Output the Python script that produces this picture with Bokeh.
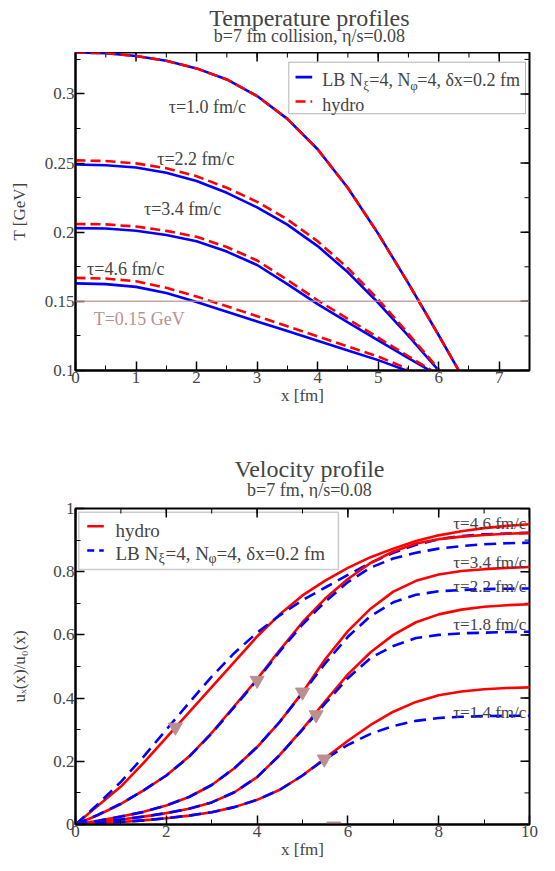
import numpy as np
from bokeh.plotting import figure
from bokeh.models import (SingleIntervalTicker, NumeralTickFormatter, Span, Label,
                          BoxAnnotation, Range1d)
from bokeh.layouts import column
from bokeh.embed import file_html
from bokeh.resources import INLINE

FONT = "Liberation Serif"
BLUE = "#0000ff"
RED = "#ff0000"
ROSY = "#bc8f8f"

# ---------------- Temperature profiles (top) ----------------
T_tau_labels = ["τ=1.0 fm/c", "τ=2.2 fm/c", "τ=3.4 fm/c", "τ=4.6 fm/c"]

x_T10 = [0, 0.5, 1, 1.5, 2, 2.5, 3, 3.5, 4, 4.5, 5, 5.5, 6, 6.5]
T10_lb = [0.330, 0.3295, 0.3275, 0.324, 0.3185, 0.3105, 0.2985, 0.282, 0.260, 0.232, 0.199, 0.163, 0.1255, 0.087]
T10_hy = [0.330, 0.3295, 0.3275, 0.324, 0.3185, 0.3105, 0.2985, 0.282, 0.260, 0.232, 0.199, 0.163, 0.1255, 0.087]

x_T22 = [0, 0.5, 1, 1.5, 2, 2.5, 3, 3.5, 4, 4.5, 5, 5.5, 6, 6.1]
T22_lb = [0.249, 0.2485, 0.2468, 0.2430, 0.2370, 0.2285, 0.2180, 0.2055, 0.1900, 0.1710, 0.1490, 0.1250, 0.1000, 0.095]
T22_hy = [0.252, 0.2515, 0.2498, 0.2463, 0.2405, 0.2322, 0.2220, 0.2093, 0.1935, 0.1740, 0.1515, 0.1265, 0.1010, 0.096]

x_T34 = [0, 0.5, 1, 1.5, 2, 2.5, 3, 3.5, 4, 4.5, 5, 5.5, 5.9]
T34_lb = [0.203, 0.2027, 0.2011, 0.198, 0.1935, 0.186, 0.1763, 0.1625, 0.148, 0.1348, 0.1218, 0.109, 0.0988]
T34_hy = [0.206, 0.2057, 0.2041, 0.201, 0.1967, 0.1893, 0.1796, 0.1655, 0.1508, 0.1373, 0.1238, 0.1103, 0.0996]

x_T46 = [0, 0.5, 1, 1.5, 2, 2.5, 3, 3.5, 4, 4.5, 5, 5.5]
T46_lb = [0.163, 0.1625, 0.1605, 0.156, 0.1495, 0.1425, 0.1355, 0.1285, 0.1215, 0.1145, 0.1075, 0.0995]
T46_hy = [0.167, 0.1665, 0.1645, 0.1598, 0.1535, 0.1465, 0.1393, 0.132, 0.1247, 0.1174, 0.1101, 0.101]

T_label_x = [1.54, 1.35, 1.13, 0.19]
T_label_y = [0.2907, 0.2531, 0.2170, 0.1736]
T_freeze = 0.15

# ---------------- Velocity profile (bottom) ----------------
x_u = [0, 0.5, 1, 1.5, 2, 2.5, 3, 3.5, 4, 4.5, 5, 5.5, 6, 6.5, 7, 7.5, 8, 8.5, 9, 9.5, 10]
u46_hy = [0, 0.06, 0.12, 0.195, 0.275, 0.355, 0.435, 0.515, 0.595, 0.665, 0.725, 0.772, 0.812, 0.846, 0.873, 0.897, 0.915, 0.928, 0.938, 0.945, 0.95]
u46_lb = [0, 0.065, 0.135, 0.215, 0.3, 0.385, 0.468, 0.543, 0.607, 0.662, 0.71, 0.75, 0.79, 0.828, 0.86, 0.885, 0.903, 0.913, 0.918, 0.921, 0.923]
u34_hy = [0, 0.03, 0.065, 0.108, 0.155, 0.215, 0.29, 0.375, 0.46, 0.552, 0.64, 0.715, 0.777, 0.828, 0.864, 0.889, 0.903, 0.911, 0.916, 0.92, 0.923]
u34_lb = [0, 0.031, 0.066, 0.108, 0.155, 0.214, 0.288, 0.372, 0.457, 0.548, 0.633, 0.705, 0.767, 0.813, 0.842, 0.86, 0.873, 0.881, 0.887, 0.89, 0.892]
u22_hy = [0, 0.012, 0.025, 0.04, 0.06, 0.087, 0.125, 0.178, 0.245, 0.325, 0.418, 0.523, 0.612, 0.683, 0.737, 0.771, 0.791, 0.802, 0.808, 0.812, 0.815]
u22_lb = [0, 0.012, 0.025, 0.04, 0.06, 0.087, 0.125, 0.178, 0.245, 0.325, 0.416, 0.51, 0.594, 0.66, 0.703, 0.727, 0.738, 0.742, 0.745, 0.746, 0.747]
u18_hy = [0, 0.008, 0.016, 0.025, 0.036, 0.05, 0.07, 0.102, 0.15, 0.22, 0.302, 0.39, 0.475, 0.545, 0.6, 0.64, 0.665, 0.68, 0.689, 0.694, 0.697]
u18_lb = [0, 0.008, 0.016, 0.025, 0.036, 0.05, 0.07, 0.102, 0.15, 0.22, 0.3, 0.383, 0.463, 0.527, 0.565, 0.59, 0.6, 0.605, 0.607, 0.609, 0.61]
u14_hy = [0, 0.004, 0.008, 0.013, 0.02, 0.028, 0.039, 0.055, 0.078, 0.11, 0.155, 0.21, 0.265, 0.315, 0.357, 0.388, 0.409, 0.421, 0.428, 0.432, 0.434]
u14_lb = [0, 0.004, 0.008, 0.013, 0.02, 0.028, 0.039, 0.055, 0.078, 0.11, 0.155, 0.207, 0.252, 0.287, 0.312, 0.328, 0.337, 0.341, 0.343, 0.344, 0.344]

u_tau_labels = ["τ=4.6 fm/c", "τ=3.4 fm/c", "τ=2.2 fm/c", "τ=1.8 fm/c", "τ=1.4 fm/c"]
u_label_y = [0.951, 0.829, 0.753, 0.632, 0.356]
u_label_x = 9.93

tri_x = [2.2, 4.0, 5.0, 5.3, 5.48, 5.69]
tri_u = [0.308, 0.456, 0.419, 0.347, 0.207, -0.005]

LEG_LB = ["LB N", "ξ", "=4, N", "φ", "=4, δx=0.2 fm"]

FRAME_W = 454
TOTAL_W = 553


def style(p, xint, yint, yfmt, xr, yr, frame_h, ylab_standoff):
    p.grid.visible = False
    p.outline_line_color = "black"
    p.outline_line_width = 2
    xa, ya = p.xaxis[0], p.yaxis[0]
    xa.ticker = SingleIntervalTicker(interval=xint, num_minor_ticks=2)
    ya.ticker = SingleIntervalTicker(interval=yint, num_minor_ticks=2)
    ya.formatter = NumeralTickFormatter(format=yfmt)
    for ax in [xa, ya]:
        ax.axis_line_width = 2
        ax.major_tick_in = 9
        ax.major_tick_out = 0
        ax.minor_tick_in = 5
        ax.minor_tick_out = 0
        ax.major_tick_line_width = 1.5
        ax.minor_tick_line_width = 1
        ax.major_label_text_font = FONT
        ax.major_label_text_font_size = "17px"
        ax.major_label_standoff = 1
        ax.axis_label_text_font = FONT
        ax.axis_label_text_font_size = "17px"
        ax.axis_label_text_font_style = "normal"
    xa.axis_label_standoff = 0
    ya.axis_label_standoff = ylab_standoff
    # mirrored inward ticks on top and right edges
    ypp = (yr[1] - yr[0]) / frame_h
    xpp = (xr[1] - xr[0]) / FRAME_W
    xmaj = np.arange(xr[0], xr[1] + 1e-9, xint)
    xmin = np.arange(xr[0], xr[1] + 1e-9, xint / 2)
    ymaj = np.arange(yr[0], yr[1] + 1e-9, yint)
    ymin = np.arange(yr[0], yr[1] + 1e-9, yint / 2)
    p.segment(xmaj, yr[1], xmaj, yr[1] - 9 * ypp, line_color="black", line_width=1.5)
    p.segment(xmin, yr[1], xmin, yr[1] - 5 * ypp, line_color="black", line_width=1)
    p.segment(xr[1], ymaj, xr[1] - 9 * xpp, ymaj, line_color="black", line_width=1.5)
    p.segment(xr[1], ymin, xr[1] - 5 * xpp, ymin, line_color="black", line_width=1)
    return xa, ya


def title_fig(height, main, sub, y_main, y_sub):
    t = figure(width=TOTAL_W, height=height, x_range=Range1d(0, TOTAL_W), y_range=Range1d(0, height),
               output_backend="svg", toolbar_location=None, title=None, min_border=0)
    t.xaxis.visible = False
    t.yaxis.visible = False
    t.grid.visible = False
    t.outline_line_color = None
    t.add_layout(Label(x=285, y=y_main, text=main, text_font=FONT, text_font_size="24px",
                       text_align="center", text_baseline="alphabetic"))
    t.add_layout(Label(x=285, y=y_sub, text=sub, text_font=FONT, text_font_size="18px",
                       text_align="center", text_baseline="alphabetic"))
    return t


def legend_text(p, x, y, pieces, size, subsize, offsets):
    for txt, dx, sub in zip(pieces, offsets, [False, True, False, True, False]):
        p.add_layout(Label(x=x, y=y, x_offset=dx, y_offset=(-5 if sub else 0), text=txt,
                           text_font=FONT, text_font_size=(subsize if sub else size),
                           text_baseline="alphabetic", text_align="left"))


# ---------- title block 1 ----------
t1 = title_fig(52, "Temperature profiles", "b=7 fm collision, η/s=0.08", 35, 16.5)

# ---------- figure 1 ----------
XR1, YR1, FH1 = (0, 7.5), (0.1, 0.33), 318
p1 = figure(frame_width=FRAME_W, frame_height=FH1, x_range=Range1d(*XR1), y_range=Range1d(*YR1),
            output_backend="svg", toolbar_location=None, title=None,
            min_border_left=75, min_border_right=24, min_border_top=0, min_border_bottom=44)
xa1, ya1 = style(p1, 1, 0.05, "0.[00]", XR1, YR1, FH1, 13)
xa1.axis_label = "x [fm]"
ya1.axis_label = "T [GeV]"

p1.add_layout(Span(location=T_freeze, dimension="width", line_color=ROSY, line_width=1.5, line_alpha=0.8))
p1.add_layout(Label(x=0.30, y=0.1376, text="T=0.15 GeV", text_color=ROSY, text_font=FONT,
                    text_font_size="18px", text_baseline="alphabetic"))

for xs, lb, hy in [(x_T10, T10_lb, T10_hy), (x_T22, T22_lb, T22_hy), (x_T34, T34_lb, T34_hy), (x_T46, T46_lb, T46_hy)]:
    p1.line(xs, lb, line_color=BLUE, line_width=2.6)
    p1.line(xs, hy, line_color=RED, line_width=2.6, line_dash="10 5")

for t, lx, ly in zip(T_tau_labels, T_label_x, T_label_y):
    p1.add_layout(Label(x=lx, y=ly, text=t, text_font=FONT, text_font_size="18px", text_baseline="alphabetic"))

# legend (top)
p1.add_layout(BoxAnnotation(left=3.524, right=7.434, top=0.323, bottom=0.2857, fill_color="white",
                            fill_alpha=1, line_color="black", line_width=1, level="underlay"))
p1.line([3.635, 3.91], [0.3122, 0.3122], line_color=BLUE, line_width=2.6)
p1.line([3.635, 3.91], [0.2946, 0.2946], line_color=RED, line_width=2.6, line_dash="10 5")
legend_text(p1, 4.076, 0.3101, LEG_LB, "18px", "13px", [0, 41, 47, 88, 95])
p1.add_layout(Label(x=4.076, y=0.2917, text="hydro", text_font=FONT, text_font_size="18px",
                    text_baseline="alphabetic"))

# ---------- title block 2 ----------
t2 = title_fig(84, "Velocity profile", "b=7 fm, η/s=0.08", 30, 9)

# ---------- figure 2 ----------
XR2, YR2, FH2 = (0, 10), (0, 1), 316
p2 = figure(frame_width=FRAME_W, frame_height=FH2, x_range=Range1d(*XR2), y_range=Range1d(*YR2),
            output_backend="svg", toolbar_location=None, title=None,
            min_border_left=75, min_border_right=24, min_border_top=10, min_border_bottom=0)
xa2, ya2 = style(p2, 2, 0.2, "0.[0]", XR2, YR2, FH2, 21)
xa2.axis_label = "x [fm]"
ya2.axis_label = "uₓ(x)/u₀(x)"

pairs = [(u46_hy, u46_lb), (u34_hy, u34_lb), (u22_hy, u22_lb), (u18_hy, u18_lb), (u14_hy, u14_lb)]
for hy, lb in pairs:
    p2.line(x_u, hy, line_color=RED, line_width=2.6)
    p2.line(x_u, lb, line_color=BLUE, line_width=2.6, line_dash="12 7")

p2.scatter(tri_x, tri_u, marker="inverted_triangle", size=14, fill_color=ROSY, line_color=ROSY)

for t, ly in zip(u_tau_labels, u_label_y):
    p2.add_layout(Label(x=u_label_x, y=ly, text=t, text_font=FONT, text_font_size="17px",
                        text_align="right", text_baseline="alphabetic"))

# legend (bottom)
p2.add_layout(BoxAnnotation(left=0.073, right=5.79, top=0.988, bottom=0.807, fill_color="white",
                            fill_alpha=1, line_color="#555555", line_width=1.5, level="underlay"))
p2.line([0.258, 0.623], [0.944, 0.944], line_color=RED, line_width=2.6)
p2.line([0.258, 0.623], [0.867, 0.867], line_color=BLUE, line_width=2.6, line_dash="7 5")
p2.add_layout(Label(x=0.881, y=0.930, text="hydro", text_font=FONT, text_font_size="19px",
                    text_baseline="alphabetic"))
legend_text(p2, 0.881, 0.8566, LEG_LB, "19px", "14px", [0, 43, 50, 93, 101])

layout = column(t1, p1, t2, p2, spacing=0)
open("out.html", "w").write(file_html(layout, INLINE))
